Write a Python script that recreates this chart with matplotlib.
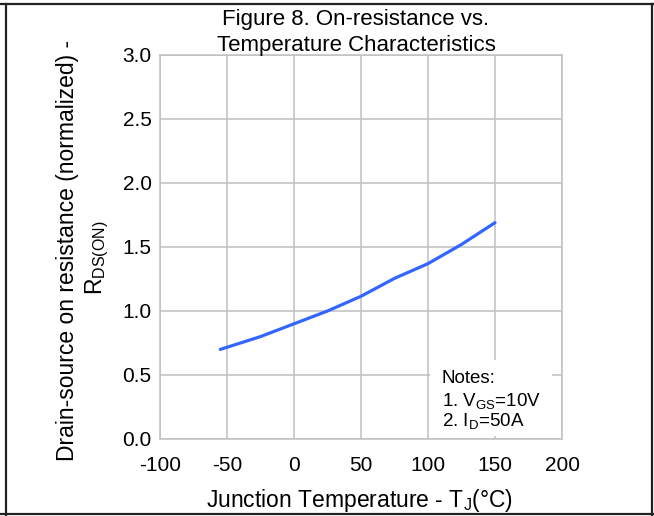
import numpy as np
import matplotlib
matplotlib.use("Agg")
import matplotlib.pyplot as plt
from matplotlib.patches import Rectangle
from matplotlib.lines import Line2D

plt.rcParams['font.family'] = ['Liberation Sans', 'DejaVu Sans']
plt.rcParams['mathtext.fontset'] = 'custom'
plt.rcParams['mathtext.rm'] = 'Liberation Sans'
plt.rcParams['mathtext.default'] = 'regular'
plt.rcParams['axes.unicode_minus'] = False

# values
temp_c = [-55, -25, 0, 25, 50, 75, 100, 125, 150]
rds_norm = [0.70, 0.80, 0.90, 1.00, 1.115, 1.255, 1.37, 1.52, 1.69]

x_ticks = [-100, -50, 0, 50, 100, 150, 200]
y_ticks = [0.0, 0.5, 1.0, 1.5, 2.0, 2.5, 3.0]
notes = ["Notes:", "1. V$_{GS}$=10V", "2. I$_{D}$=50A"]

W, H = 654, 516
fig = plt.figure(figsize=(W / 100, H / 100), dpi=100)
ax = fig.add_axes([160 / W, 77 / H, 402 / W, 384 / H])

grid_col = '#c0c0c0'
ax.plot(temp_c, rds_norm, color='#3366ff', linewidth=2.3, solid_capstyle='round', zorder=3)

ax.set_xlim(-100, 200)
ax.set_ylim(0, 3.0)
ax.set_xticks(x_ticks)
ax.set_yticks(y_ticks)
ax.set_yticklabels([f"{v:.1f}" for v in y_ticks])
ax.grid(True, color=grid_col, linewidth=1.1)
ax.set_axisbelow(True)
for s in ax.spines.values():
    s.set_color(grid_col)
    s.set_linewidth(1.1)
ax.tick_params(axis='both', length=0, labelsize=15, colors='black')
ax.tick_params(axis='x', pad=12)
ax.tick_params(axis='y', pad=6)

# notes box covering the grid in the lower right corner
ax.add_patch(Rectangle((0.672, 0.008), 0.303, 0.198, transform=ax.transAxes,
                       facecolor='white', edgecolor='none', zorder=2))
for txt, yy in zip(notes, [0.146, 0.086, 0.034]):
    ax.text(0.701, yy, txt, transform=ax.transAxes, fontsize=13.5,
            va='baseline', ha='left', zorder=4)

# title (two lines)
fig.text(356 / W, 1 - 25 / H, "Figure 8. On-resistance vs.", ha='center', va='baseline', fontsize=16)
fig.text(356 / W, 1 - 51 / H, "Temperature Characteristics", ha='center', va='baseline', fontsize=16)

# axis labels
fig.text(360 / W, 1 - 507 / H, "Junction Temperature - T$_{J}$(°C)", ha='center', va='baseline', fontsize=16.5)
fig.text(68 / W, 1 - 250 / H, "Drain-source on resistance (normalized) -", rotation=90,
         ha='center', va='center', fontsize=16.5)
fig.text(97 / W, 1 - 258 / H, "R$_{DS(ON)}$", rotation=90, ha='center', va='center', fontsize=16.5)

# outer frame
frame = dict(color='#222222', linewidth=1.6, transform=fig.transFigure)
fig.add_artist(Line2D([0, 1], [1 - 4 / H, 1 - 4 / H], **frame))
fig.add_artist(Line2D([0, 1], [1 - 514 / H, 1 - 514 / H], **frame))
fig.add_artist(Line2D([6 / W, 6 / W], [0, 1 - 4 / H], **frame))
fig.add_artist(Line2D([652 / W, 652 / W], [0, 1 - 4 / H], **frame))

fig.savefig("out.png", dpi=100)
